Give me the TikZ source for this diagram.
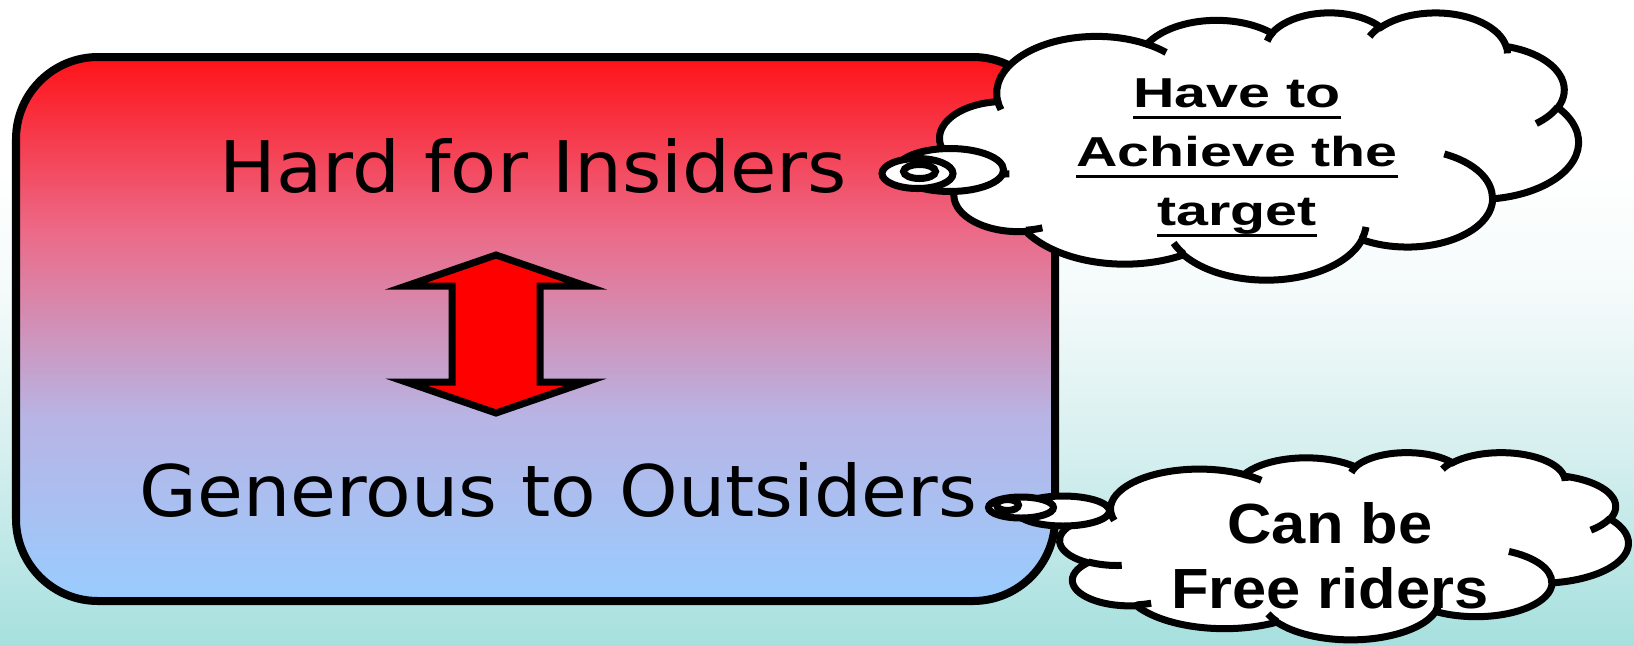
\documentclass[tikz,border=0pt]{standalone}
\usepackage{fontspec}
\usepackage{graphicx}
\setmainfont{DejaVu Sans}
\newfontfamily\calloutfont{Liberation Sans}
\definecolor{backteal}{HTML}{A6E0DE}
\definecolor{backmist}{HTML}{D6EFEF}
\definecolor{backpale}{HTML}{F4FAFA}
\definecolor{panelblue}{HTML}{99CCFF}
\definecolor{panellilac}{HTML}{B8B4E4}
\definecolor{panelrose}{HTML}{EC6A88}
\definecolor{panelred}{HTML}{FF1218}
\definecolor{arrowred}{HTML}{FF0000}
\pgfdeclareverticalshading{backfade}{100bp}{color(0bp)=(backteal); color(25bp)=(backteal);
  color(40bp)=(backmist); color(52bp)=(backpale); color(62bp)=(white); color(100bp)=(white)}
\pgfdeclareverticalshading{panelfade}{100bp}{color(0bp)=(panelblue); color(25bp)=(panelblue);
  color(42bp)=(panellilac); color(59bp)=(panelrose); color(75bp)=(panelred); color(100bp)=(panelred)}
\newsavebox\ulbox
\newcommand\ulline[1]{\sbox\ulbox{#1}\rlap{\rule[-3.3pt]{\wd\ulbox}{.95pt}}\usebox\ulbox}
\newcommand\wide[2]{\scalebox{#1}[1]{#2}}
% arc of an ellipse, angles given as seen on the page
\newcommand\cloudarc[4]{arc[x radius=#1,y radius=#2,start angle={atan2(#1*sin(#3),#2*cos(#3))},
  delta angle={mod(atan2(#1*sin(#3+#4),#2*cos(#3+#4))-atan2(#1*sin(#3),#2*cos(#3))+900,360)-180}]}
\newcommand\cloudoutline{(9.028,33.264)
  \cloudarc{15.632}{21.273}{-190.4875}{123.7805}
  \cloudarc{12.345}{16.822}{-144.1024}{89.9452}
  \cloudarc{10.104}{13.762}{-145.8079}{99.7230}
  \cloudarc{11.243}{15.266}{-130.9861}{117.2417}
  \cloudarc{12.345}{16.836}{-78.7089}{109.0269}
  \cloudarc{15.683}{21.343}{-46.2673}{130.2690}
  \cloudarc{13.391}{18.211}{0.6250}{114.0333}
  \cloudarc{15.630}{21.331}{22.4516}{115.1726}
  \cloudarc{17.870}{24.405}{66.2426}{75.7110}
  \cloudarc{10.093}{13.699}{-274.9421}{146.7356}
  \cloudarc{10.058}{13.762}{-246.8285}{152.5189} -- cycle}
\newcommand\cloudfolds{(10.863,60.595) \cloudarc{10.058}{13.762}{86.7420}{26.4295}
  (16.037,80.785) \cloudarc{10.093}{13.699}{73.6105}{11.4475}
  (38.144,90.486) \cloudarc{15.630}{21.331}{137.6242}{14.0811}
  (66.729,80.442) \cloudarc{15.630}{21.331}{6.4533}{15.9984}
  (79.002,53.134) \cloudarc{13.391}{18.211}{-70.2924}{70.9174}
  (96.755,35.542) \cloudarc{12.345}{16.836}{30.3180}{27.7515}
  (88.713,12.560) \cloudarc{11.243}{15.266}{-13.7443}{14.8589}
  (67.310,9.148) \cloudarc{11.243}{15.266}{-149.1815}{18.1954}
  (51.252,10.926) \cloudarc{10.104}{13.762}{-163.4943}{17.6864}
  (32.407,12.019) \cloudarc{15.632}{21.273}{-66.7070}{12.3194}
  (9.553,36.549) \cloudarc{15.632}{21.273}{157.6544}{11.8582}}
\tikzset{panel/.style={draw,shade,shading=panelfade,line width=.08cm,rounded corners=.82cm},
  cloudline/.style={draw,fill=white,line width=.07cm},
  foldline/.style={draw,line width=.07cm},
  bothway/.style={draw,fill=arrowred,line width=.07cm,line join=miter},
  maintext/.style={inner sep=0pt,anchor=base},
  notetext/.style={inner sep=0pt,align=center}}
\begin{document}
\begin{tikzpicture}[x=.01cm,y=-.01cm]
\path[use as bounding box] (0,0) rectangle (1634,645);
\shade[shading=backfade] (0,0) rectangle (1634,645);
\path[panel] (16,57) rectangle (1055,601);
\draw[bothway] (496,255)--(586,286)--(540,286)--(540,382)--(586,382)--(496,413)
  --(406,382)--(452,382)--(452,286)--(406,286)--cycle;
\node[maintext] (insiders) at (533.5,192) {\resizebox{6.27cm}{.54cm}{Hard for Insiders}};
\node[maintext] (outsiders) at (558.5,516) {\resizebox{8.37cm}{.54cm}{Generous to Outsiders}};
% upper thought cloud
\begin{scope}[shift={(940,12)},x=.0638cm,y=-.0267cm]
\path[cloudline] \cloudoutline;
\path[foldline] \cloudfolds;
\end{scope}
\path[cloudline] (950,170) ellipse [x radius=53.5,y radius=21.5];
\path[cloudline] (917.5,173.5) ellipse [x radius=35.5,y radius=15];
\path[cloudline] (919.5,171.5) ellipse [x radius=16,y radius=7];
\node[notetext,font=\calloutfont\bfseries\fontsize{11.9}{16.7}\selectfont] (targetnote) at (1237,158)
  {\wide{1.37}{\ulline{Have to}}\\\wide{1.37}{\ulline{Achieve the}}\\\wide{1.37}{\ulline{target}}};
% lower thought cloud
\begin{scope}[shift={(1060,452)},x=.0568cm,y=-.0187cm]
\path[cloudline] \cloudoutline;
\path[foldline] \cloudfolds;
\end{scope}
\path[cloudline] (1063,511) ellipse [x radius=46.5,y radius=15];
\path[cloudline] (1021,507.5) ellipse [x radius=32.5,y radius=10.5];
\path[cloudline] (1007.5,505) ellipse [x radius=11,y radius=5.5];
\node[notetext,font=\calloutfont\bfseries\fontsize{16.1}{18.5}\selectfont] (ridernote) at (1330,556)
  {\wide{1.085}{Can be}\\\wide{1.085}{Free riders}};
\end{tikzpicture}
\end{document}
